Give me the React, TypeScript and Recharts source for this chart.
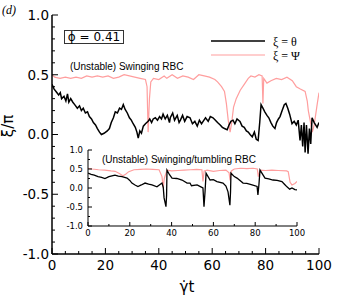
import { CartesianGrid, Line, LineChart, XAxis, YAxis } from "recharts";

// main panel: theta / pi (black)
const thetaT = [
  0, 0.8, 1.5, 2.5, 3.1, 3.6, 4.5, 5.2, 5.8, 6.3, 7, 7.8, 8.5, 9.5, 10.3, 11, 11.7, 12.5, 13.3, 14,
  14.8, 15.5, 16.3, 17, 17.8, 18.5, 19.5, 20.7, 21.5, 22.2, 23, 23.7, 24.5, 25.3, 26, 26.7, 27.4, 28.2,
  29, 29.7, 30.4, 31.2, 31.8, 32.3, 32.9, 33.5, 34.2, 35, 36, 36.6, 37.3, 37.9, 38.7, 39.5, 40.3, 41,
  41.6, 42.4, 43.2, 44, 44.3, 45.2, 45.9, 46.9, 47.6, 48.1, 48.9, 49.7, 50.6, 51.7, 52.6, 53.5, 54.4,
  55.2, 56, 56.6, 57.5, 58.5, 59.3, 60.3, 61.2, 62, 63, 63.8, 64.6, 65.6, 66.3, 67, 67.8, 68.5, 69.3,
  70.4, 71.2, 72, 72.8, 73.5, 74.2, 75, 75.8, 76.5, 77.2, 77.8, 78.3, 79, 79.7, 80.5, 81.2, 82, 82.7,
  83.5, 84.1, 84.8, 85.4, 86.2, 87, 87.6, 88.3, 89, 89.9, 90.7, 91.5, 92.2, 92.9, 93.4, 93.9, 94.4,
  94.8, 95.3, 95.9, 96.4, 96.9, 97.4, 98.2, 99.3, 100,
];
const thetaV = [
  0.42, 0.38, 0.36, 0.33, 0.35, 0.3, 0.32, 0.28, 0.34, 0.27, 0.3, 0.27, 0.25, 0.22, 0.24, 0.2, 0.22,
  0.18, 0.19, 0.15, 0.13, 0.1, 0.08, 0.05, 0.02, 0.0, 0.01, 0.03, 0.05, 0.1, 0.14, 0.19, 0.18, 0.22,
  0.21, 0.25, 0.21, 0.18, 0.14, 0.12, 0.09, 0.06, 0.02, -0.03, 0.03, 0.01, 0.07, 0.09, 0.11, 0.13, 0.1,
  0.13, 0.14, 0.12, 0.15, 0.13, 0.17, 0.13, 0.16, 0.1, 0.14, 0.18, 0.12, 0.16, 0.1, 0.12, 0.16, 0.11,
  0.15, 0.14, 0.09, 0.11, 0.07, 0.12, 0.09, 0.11, 0.14, 0.11, 0.15, 0.14, 0.12, 0.1, 0.08, 0.06, 0.05,
  0.04, 0.08, 0.11, 0.12, 0.09, 0.13, 0.11, 0.07, 0.06, 0.03, 0.02, 0.0, -0.02, 0.02, -0.04, -0.05, 0.1,
  0.25, 0.22, 0.19, 0.16, 0.14, 0.1, 0.07, 0.05, 0.1, 0.13, 0.15, 0.2, 0.25, 0.26, 0.22, 0.17, 0.09,
  0.11, 0.08, 0.12, -0.05, 0.08, -0.1, 0.1, -0.15, 0.08, -0.16, 0.05, -0.08, 0.14, 0.1, 0.06, 0.1,
];

// main panel: Psi / pi (pink)
const psiT = [
  0, 1, 3, 5, 7, 9, 11, 13, 15, 17, 19, 21, 23, 25, 27, 29, 31, 33, 35, 35.6, 36, 36.5, 37, 38, 40, 42,
  43, 45, 47, 49, 51, 53, 55, 57, 59, 61, 62, 63.5, 64.6, 65.3, 66, 66.7, 67.3, 68, 69, 70.5, 72, 73.5,
  74.5, 76, 77.5, 78.7, 79, 79.3, 80.5, 82, 84, 86, 88, 90, 91.5, 93, 94.8, 95.6, 96, 97.5, 98.2, 99.3,
  100,
];
const psiV = [
  0.5, 0.48, 0.47, 0.48, 0.47, 0.48, 0.47, 0.49, 0.48, 0.49, 0.48, 0.49, 0.47, 0.48, 0.5, 0.49, 0.48,
  0.47, 0.46, 0.4, 0.02, 0.3, 0.44, 0.47, 0.46, 0.49, 0.47, 0.5, 0.47, 0.49, 0.48, 0.46, 0.5, 0.49, 0.48,
  0.46, 0.44, 0.4, 0.36, 0.26, 0.12, 0.02, 0.1, 0.23, 0.3, 0.37, 0.42, 0.47, 0.49, 0.48, 0.5, 0.49, 0.26,
  0.47, 0.43, 0.45, 0.47, 0.46, 0.48, 0.45, 0.4, 0.38, 0.36, 0.28, 0.2, 0.02, 0.08, 0.25, 0.35,
];

// inset: swinging/tumbling
const insetThetaT = [
  0, 1.5, 3, 4.8, 6.5, 8.1, 10, 12.9, 14.5, 16.3, 18.7, 20, 21, 22.5, 23.9, 25.5, 27.3, 29, 30.6, 33,
  35.4, 36, 36.4, 37.3, 37.6, 37.8, 39, 40.2, 42.5, 45, 47.4, 48.8, 49.5, 52.2, 54, 55, 55.5, 56, 56.5,
  58.4, 60, 61.7, 64.6, 66, 67, 67.9, 68.2, 68.4, 70, 71.3, 74.2, 76, 78.5, 80.9, 81.3, 81.8, 82.3,
  84.7, 86.5, 88.5, 90.5, 92.8, 94, 95.2, 96.5, 97.6, 99, 100,
];
const insetThetaV = [
  0.39, 0.36, 0.34, 0.3, 0.28, 0.25, 0.3, 0.34, 0.31, 0.3, 0.26, 0.2, 0.13, 0.08, 0.04, 0.08, 0.13, 0.1,
  0.08, 0.03, 0.13, 0.02, -0.26, -0.49, -0.2, 0.47, 0.35, 0.26, 0.25, 0.21, 0.13, 0.13, 0.06, 0.08,
  0.03, 0.0, -0.49, -0.1, 0.39, 0.21, 0.22, 0.17, 0.13, 0.05, -0.1, -0.45, -0.1, 0.39, 0.3, 0.26, 0.13,
  0.12, 0.08, 0.04, -0.18, 0.1, 0.47, 0.26, 0.24, 0.21, 0.2, 0.17, 0.1, 0.03, -0.03, 0.0, -0.04, -0.05,
];
const insetPsiT = [
  0, 2, 5, 8, 11, 13, 15, 16.7, 18, 19.5, 22, 25, 28, 31, 34, 35.4, 36, 36.5, 37.8, 40, 43, 46, 49, 52,
  54.5, 55, 55.6, 57, 60, 63, 66, 67.5, 68, 68.6, 70, 73, 76, 79, 81, 81.5, 82.3, 85, 88, 91, 95, 95.8,
  96.7, 97.6, 99, 100,
];
const insetPsiV = [
  0.52, 0.5, 0.48, 0.47, 0.45, 0.44, 0.38, 0.32, 0.36, 0.43, 0.48, 0.49, 0.5, 0.49, 0.48, 0.3, 0.0, 0.25,
  0.47, 0.45, 0.46, 0.47, 0.48, 0.49, 0.48, 0.17, 0.45, 0.47, 0.44, 0.46, 0.47, 0.4, 0.2, 0.45, 0.5,
  0.52, 0.51, 0.52, 0.5, 0.3, 0.47, 0.46, 0.47, 0.46, 0.45, 0.43, 0.15, 0.08, 0.12, 0.17,
];

const mainXTicks = [0, 5, 10, 15, 20, 25, 30, 35, 40, 45, 50, 55, 60, 65, 70, 75, 80, 85, 90, 95, 100];
const mainYTicks = [
  -1, -0.9, -0.8, -0.7, -0.6, -0.5, -0.4, -0.3, -0.2, -0.1, 0, 0.1, 0.2, 0.3, 0.4, 0.5, 0.6, 0.7, 0.8,
  0.9, 1,
];
const insetXTicks = [0, 10, 20, 30, 40, 50, 60, 70, 80, 90, 100];
const insetYTicks = [-1, -0.75, -0.5, -0.25, 0, 0.25, 0.5, 0.75, 1];

const toPoints = (ts: number[], vs: number[]) => ts.map((t, i) => ({ t, v: vs[i] }));

const mainTheta = toPoints(thetaT, thetaV);
const mainPsi = toPoints(psiT, psiV);
const insetTheta = toPoints(insetThetaT, insetThetaV);
const insetPsi = toPoints(insetPsiT, insetPsiV);

const SANS = "'DejaVu Sans', sans-serif";
const PINK = "#ff9e9e";

type TickOpts = {
  side: "bottom" | "top" | "left" | "right";
  isMajor: (v: number) => boolean;
  long: number;
  short: number;
  fontSize?: number;
  gap?: number;
  fmt?: (v: number) => string;
};

function makeTick({ side, isMajor, long, short, fontSize, gap = 0, fmt }: TickOpts) {
  return function AxisTick(props: any) {
    const { x, y, payload } = props;
    const v = payload.value as number;
    const major = isMajor(v);
    const len = major ? long : short;
    const label = major && fmt ? fmt(v) : null;
    let line;
    if (side === "bottom") line = <line x1={x} y1={y} x2={x} y2={y - len} />;
    else if (side === "top") line = <line x1={x} y1={y} x2={x} y2={y + len} />;
    else if (side === "left") line = <line x1={x} y1={y} x2={x + len} y2={y} />;
    else line = <line x1={x} y1={y} x2={x - len} y2={y} />;
    return (
      <g stroke="#000" strokeWidth={1}>
        {line}
        {label !== null && side === "bottom" && (
          <text x={x} y={y + gap} textAnchor="middle" fontSize={fontSize} fontFamily={SANS} stroke="none" fill="#000">
            {label}
          </text>
        )}
        {label !== null && side === "left" && (
          <text x={x - gap} y={y} dy="0.36em" textAnchor="end" fontSize={fontSize} fontFamily={SANS} stroke="none" fill="#000">
            {label}
          </text>
        )}
      </g>
    );
  };
}

const every20 = (v: number) => v % 20 === 0;
const everyHalf = (v: number) => Math.abs(v * 2 - Math.round(v * 2)) < 1e-6;
const oneDecimal = (v: number) => v.toFixed(1);

const mainBottom = makeTick({ side: "bottom", isMajor: every20, long: 6, short: 3, fontSize: 13.5, gap: 16, fmt: String });
const mainTop = makeTick({ side: "top", isMajor: every20, long: 6, short: 3 });
const mainLeft = makeTick({ side: "left", isMajor: everyHalf, long: 6, short: 3, fontSize: 13.5, gap: 3, fmt: oneDecimal });
const mainRight = makeTick({ side: "right", isMajor: everyHalf, long: 6, short: 3 });

const insetBottom = makeTick({ side: "bottom", isMajor: every20, long: 4, short: 2, fontSize: 8.5, gap: 10, fmt: String });
const insetTop = makeTick({ side: "top", isMajor: every20, long: 4, short: 2 });
const insetLeft = makeTick({ side: "left", isMajor: everyHalf, long: 4, short: 2, fontSize: 8.5, gap: 5, fmt: oneDecimal });
const insetRight = makeTick({ side: "right", isMajor: everyHalf, long: 4, short: 2 });

export default function App() {
  return (
    <div style={{ position: "absolute", left: 0, top: 0, width: 337, height: 300, background: "#fff" }}>
      <div style={{ position: "absolute", left: 0, top: 0 }}>
        <LineChart width={337} height={300} margin={{ top: 15, right: 18, left: 0, bottom: 0 }}>
          <XAxis
            dataKey="t"
            type="number"
            domain={[0, 100]}
            ticks={mainXTicks}
            interval={0}
            height={46}
            tickSize={0}
            tickMargin={0}
            tick={mainBottom}
            axisLine={{ stroke: "#000", strokeWidth: 1.5 }}
            allowDataOverflow
          />
          <XAxis
            xAxisId="top"
            orientation="top"
            type="number"
            domain={[0, 100]}
            ticks={mainXTicks}
            interval={0}
            height={0}
            tickSize={0}
            tickMargin={0}
            tick={mainTop}
            axisLine={{ stroke: "#000", strokeWidth: 1.5 }}
          />
          <YAxis
            type="number"
            domain={[-1, 1]}
            ticks={mainYTicks}
            interval={0}
            width={52}
            tickSize={0}
            tickMargin={0}
            tick={mainLeft}
            axisLine={{ stroke: "#000", strokeWidth: 1.5 }}
            allowDataOverflow
          />
          <YAxis
            yAxisId="right"
            orientation="right"
            type="number"
            domain={[-1, 1]}
            ticks={mainYTicks}
            interval={0}
            width={0}
            tickSize={0}
            tickMargin={0}
            tick={mainRight}
            axisLine={{ stroke: "#000", strokeWidth: 1.5 }}
          />
          <Line data={mainPsi} dataKey="v" type="linear" stroke={PINK} strokeWidth={1.2} dot={false} isAnimationActive={false} />
          <Line data={mainTheta} dataKey="v" type="linear" stroke="#000" strokeWidth={1.5} dot={false} isAnimationActive={false} />
        </LineChart>
      </div>

      <div style={{ position: "absolute", left: 60, top: 140 }}>
        <LineChart width={250} height={105} margin={{ top: 10, right: 13, left: 0, bottom: 0 }}>
          <CartesianGrid horizontal={false} vertical={false} fill="#fff" />
          <XAxis
            dataKey="t"
            type="number"
            domain={[0, 100]}
            ticks={insetXTicks}
            interval={0}
            height={19}
            tickSize={0}
            tickMargin={0}
            tick={insetBottom}
            axisLine={{ stroke: "#000", strokeWidth: 1 }}
            allowDataOverflow
          />
          <XAxis
            xAxisId="top"
            orientation="top"
            type="number"
            domain={[0, 100]}
            ticks={insetXTicks}
            interval={0}
            height={0}
            tickSize={0}
            tickMargin={0}
            tick={insetTop}
            axisLine={{ stroke: "#000", strokeWidth: 1 }}
          />
          <YAxis
            type="number"
            domain={[-1, 1]}
            ticks={insetYTicks}
            interval={0}
            width={28}
            tickSize={0}
            tickMargin={0}
            tick={insetLeft}
            axisLine={{ stroke: "#000", strokeWidth: 1 }}
            allowDataOverflow
          />
          <YAxis
            yAxisId="right"
            orientation="right"
            type="number"
            domain={[-1, 1]}
            ticks={insetYTicks}
            interval={0}
            width={0}
            tickSize={0}
            tickMargin={0}
            tick={insetRight}
            axisLine={{ stroke: "#000", strokeWidth: 1 }}
          />
          <Line data={insetPsi} dataKey="v" type="linear" stroke={PINK} strokeWidth={1.2} dot={false} isAnimationActive={false} />
          <Line data={insetTheta} dataKey="v" type="linear" stroke="#000" strokeWidth={1.3} dot={false} isAnimationActive={false} />
        </LineChart>
      </div>

      <svg width={337} height={300} style={{ position: "absolute", left: 0, top: 0, pointerEvents: "none" }}>
        <text x={2} y={14} fontSize={12} fontStyle="italic" fontFamily="'Liberation Serif', serif">(d)</text>
        <text x={13} y={126} fontSize={15} fontFamily={SANS} textAnchor="middle" transform="rotate(-90 13 126)">ξ/π</text>
        <text x={187} y={292} fontSize={15} fontFamily={SANS} textAnchor="middle">γ̇t</text>

        <rect x={64.5} y={30.5} width={59} height={13} fill="#fff" stroke="#333" strokeWidth={1} />
        <text x={94} y={41} fontSize={12} fontFamily={SANS} textAnchor="middle">ϕ = 0.41</text>

        <line x1={211} y1={41} x2={265} y2={41} stroke="#000" strokeWidth={1.5} />
        <text x={273} y={46} fontSize={12} fontFamily="'Liberation Serif', serif">ξ = θ</text>
        <line x1={211} y1={55} x2={265} y2={55} stroke={PINK} strokeWidth={1.2} />
        <text x={273} y={60} fontSize={12} fontFamily="'Liberation Serif', serif">ξ = Ψ</text>

        <text x={70} y={70} fontSize={10} fontFamily="'Liberation Sans', Arial, sans-serif">(Unstable) Swinging RBC</text>
        <text x={102} y={163} fontSize={10} fontFamily="'Liberation Sans', Arial, sans-serif">(Unstable) Swinging/tumbling RBC</text>
      </svg>
    </div>
  );
}
